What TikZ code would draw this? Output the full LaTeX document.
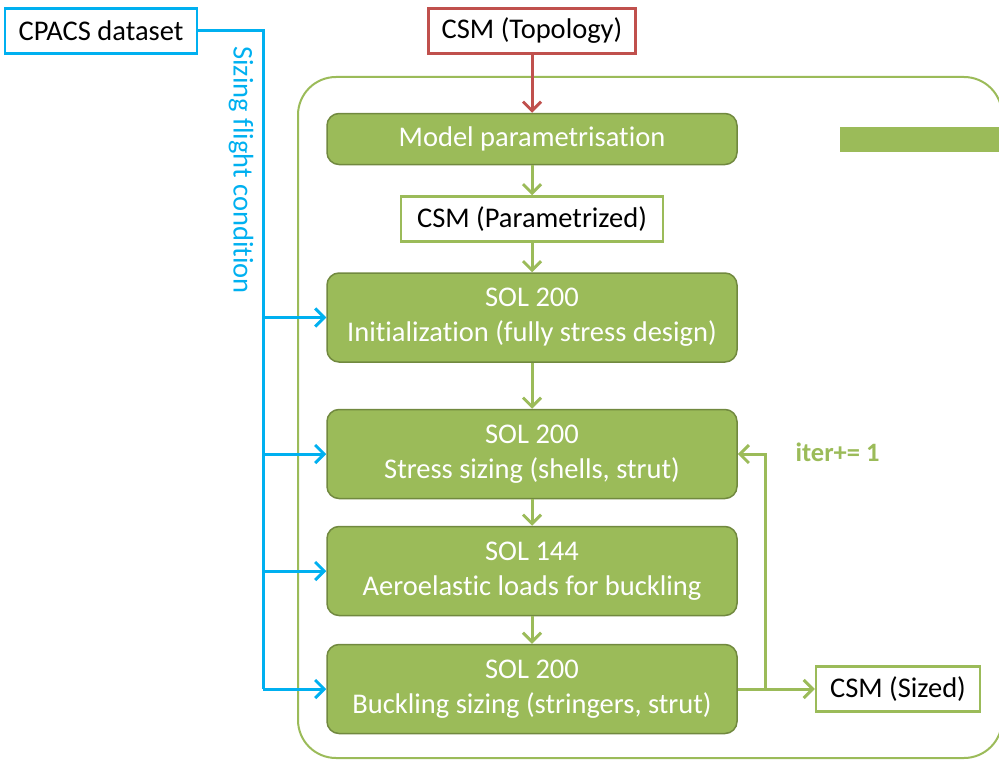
\documentclass[tikz,border=0pt]{standalone}
\usepackage{fontspec}
\setmainfont{Carlito}[Ligatures=NoCommon]
\usetikzlibrary{arrows.meta,positioning}

\definecolor{olgreen}{HTML}{9BBB59}
\definecolor{olgreendark}{HTML}{71893F}
\definecolor{skyblue}{HTML}{00B0F0}
\definecolor{brickred}{HTML}{C0504D}

\begin{document}
\begin{tikzpicture}[%
    x=1pt, y=-1pt,
    >={Straight Barb[length=9pt,width=18pt]},
    on grid,
    font=\fontsize{28.5}{35}\selectfont,
    process/.style={draw=olgreendark, line width=1.5pt, fill=olgreen,
      text=white, rounded corners=12pt, minimum width=410pt,
      minimum height=89pt, align=center, inner sep=0pt},
    data/.style={draw=olgreen, line width=2.5pt, fill=white,
      inner sep=0pt, minimum height=45pt},
    flow/.style={->, olgreen, line width=3pt},
    feed/.style={->, skyblue, line width=3pt}
  ]
    \useasboundingbox (0,0) rectangle (999,760);

    \draw[olgreen, line width=2pt, rounded corners=38pt]
      (298,77) rectangle (1002,758);
    \fill[olgreen] (840,127) rectangle (1005,152);

    \node[data, draw=skyblue, minimum width=192pt] (cpacs) at (101,31) {CPACS dataset};
    \node[data, draw=brickred, minimum width=207pt] (topo) at (532,31) {CSM (Topology)};

    \node[process, minimum height=51pt] (param) at (532,139) {Model parametrisation};
    \node[data, minimum width=262pt] (csmpar) [below=80pt of param] {CSM (Parametrized)};
    \node[process] (init) [below=98.5pt of csmpar] {SOL 200\\Initialization (fully stress design)};
    \node[process] (stress) [below=136.5pt of init] {SOL 200\\Stress sizing (shells, strut)};
    \node[process] (aero) [below=117pt of stress] {SOL 144\\Aeroelastic loads for buckling};
    \node[process] (buck) [below=118pt of aero] {SOL 200\\Buckling sizing (stringers, strut)};
    \node[data, minimum width=164pt] (csmsized) [right=366pt of buck] {CSM (Sized)};

    \draw[->, brickred, line width=3pt] (topo) -- (param);
    \draw[flow] (param) -- (csmpar);
    \draw[flow] (csmpar) -- (init);
    \draw[flow] (init) -- (stress);
    \draw[flow] (stress) -- (aero);
    \draw[flow] (aero) -- (buck);

    \path (buck.east) ++(28,0) coordinate (split);
    \draw[flow] (buck.east) -- (csmsized.west);
    \draw[flow] (split) |- (stress.east);
    \node[olgreen, font=\fontsize{26.5}{30}\selectfont\bfseries, anchor=west]
      (iter) at (792,452) {iter+= 1};

    \coordinate (bus) at (263,31);
    \draw[skyblue, line width=3pt] (cpacs.east) -- (bus) -- (bus |- buck.west);
    \foreach \n in {init,stress,aero,buck}
      \draw[feed] (bus |- \n.west) -- (\n.west);
    \node[skyblue, rotate=-90] (sizing) at (241,170) {Sizing flight condition};
  \end{tikzpicture}
\end{document}
